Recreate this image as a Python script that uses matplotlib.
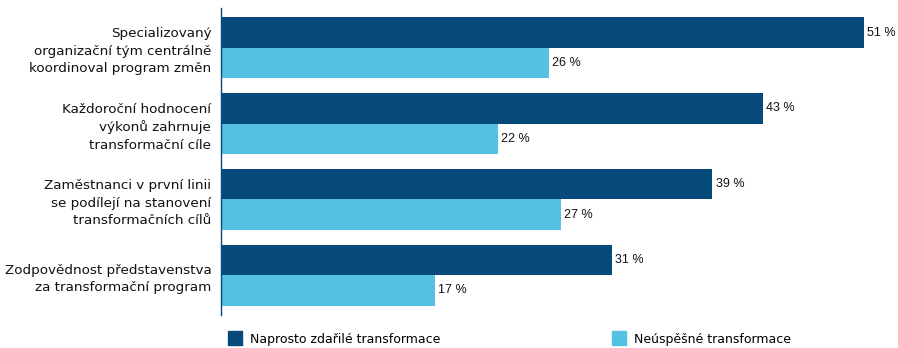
import numpy as np
import matplotlib
matplotlib.use("Agg")
import matplotlib.pyplot as plt
from matplotlib.lines import Line2D

categories = [
    "Specializovaný\norganizační tým centrálně\nkoordinoval program změn",
    "Každoroční hodnocení\nvýkonů zahrnuje\ntransformační cíle",
    "Zaměstnanci v první linii\nse podílejí na stanovení\ntransformačních cílů",
    "Zodpovědnost představenstva\nza transformační program",
]
successful = [51, 43, 39, 31]
failed = [26, 22, 27, 17]
series_names = ["Naprosto zdařilé transformace", "Neúspěšné transformace"]

DARK = "#054a7a"
LIGHT = "#53c1e2"

fig = plt.figure(figsize=(8.98, 3.48), dpi=100)
W, H = 898, 348
ax = fig.add_axes([221 / W, 1 - 315 / H, (880 - 221) / W, 307 / H])

y = np.arange(len(categories))
h = 0.395
ax.barh(y - h / 2, successful, height=h, color=DARK)
ax.barh(y + h / 2, failed, height=h, color=LIGHT)

# value labels
for yi, v in zip(y - h / 2, successful):
    ax.text(v + 0.25, yi, f"{v} %", va="center", ha="left", fontsize=9,
            family="Liberation Sans", color="#111111")
for yi, v in zip(y + h / 2, failed):
    ax.text(v + 0.25, yi, f"{v} %", va="center", ha="left", fontsize=9,
            family="Liberation Sans", color="#111111")

ax.set_xlim(0, 659 / 12.6)
ax.set_ylim(3.52, -0.52)
ax.set_yticks(y)
ax.set_yticklabels(categories, fontsize=9.7, family="DejaVu Sans", linespacing=1.45,
                   color="#111111")
ax.tick_params(axis="y", length=0, pad=7)
ax.set_xticks([])
for s in ["top", "right", "bottom"]:
    ax.spines[s].set_visible(False)
ax.spines["left"].set_color(DARK)
ax.spines["left"].set_linewidth(1.0)

# legend, two separate entries like the original
handles = [Line2D([], [], marker="s", linestyle="", markersize=10, color=c) for c in (DARK, LIGHT)]
fig.legend([handles[0]], [series_names[0]], loc="center left",
           bbox_to_anchor=(222 / W, 1 - 339 / H), frameon=False, fontsize=9,
           handletextpad=0.2, borderaxespad=0, borderpad=0)
fig.legend([handles[1]], [series_names[1]], loc="center left",
           bbox_to_anchor=(606 / W, 1 - 339 / H), frameon=False, fontsize=9,
           handletextpad=0.2, borderaxespad=0, borderpad=0)

fig.savefig("out.png", dpi=100)
